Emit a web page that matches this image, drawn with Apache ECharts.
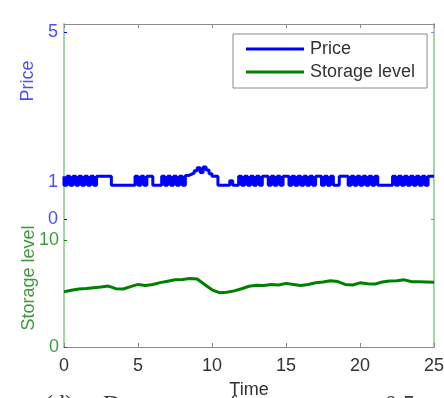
<!DOCTYPE html>
<html>
<head>
<meta charset="utf-8">
<script src="https://cdn.jsdelivr.net/npm/echarts@6/dist/echarts.min.js"></script>
<style>
  html, body { margin: 0; padding: 0; background: #fff; }
  #chart { width: 444px; height: 398px; }
</style>
</head>
<body>
<div id="chart"></div>
<script>
// Price path, sampled every 0.2 time units (step line)
const priceStep = 0.2;
const priceValues = [
  1.15, 0.91, 1.15, 0.91, 1.15, 0.91, 1.15, 0.91, 1.15, 0.91, 1.15, 0.91, 1.15, 1.15, 1.15, 1.15, 1.15, 0.91,
  0.91, 0.91, 0.91, 0.91, 0.91, 0.91, 0.91,
  1.15, 0.91, 1.15, 0.91, 1.15, 1.15,
  0.91, 0.91, 0.91,
  1.15, 0.91, 1.15, 0.91, 1.15, 0.91,
  1.15, 0.91, 1.17, 1.20, 1.24,
  1.30, 1.38, 1.25, 1.40, 1.32, 1.22,
  1.15, 1.15,
  0.91, 0.91, 0.91, 0.91, 1.03, 0.91, 0.91,
  1.15, 0.91, 1.15, 0.91, 1.15, 0.91, 1.15, 0.91, 1.15,
  1.15, 0.91, 1.15, 0.91, 1.15, 0.91, 1.15, 1.15, 0.91, 1.15, 0.91, 1.15, 0.91, 1.15, 0.91, 1.15, 0.91, 1.15, 1.15, 0.91, 1.15, 0.91, 1.15,
  0.91, 0.91, 1.15, 1.15,
  1.15, 0.91, 1.15, 0.91, 1.15, 0.91, 1.15, 0.91, 1.15, 0.91, 1.15, 0.91,
  0.91, 0.91, 0.91, 0.91,
  1.15, 0.91, 1.15, 0.91, 1.15, 0.91, 1.15, 0.91, 1.15, 0.91, 1.15, 0.91, 1.15, 1.15
];

// Storage level, sampled every 0.5 time units
const storageStep = 0.5;
const storageValues = [
  5.17, 5.30, 5.42, 5.48, 5.55, 5.62, 5.70, 5.45, 5.42, 5.65,
  5.85, 5.76, 5.85, 6.02, 6.15, 6.28, 6.32, 6.40, 6.35, 5.85,
  5.35, 5.08, 5.12, 5.25, 5.45, 5.68, 5.78, 5.75, 5.85, 5.80,
  5.95, 5.85, 5.75, 5.85, 6.00, 6.08, 6.20, 6.12, 5.85, 5.80,
  6.00, 5.92, 5.88, 6.08, 6.18, 6.20, 6.28, 6.10, 6.10, 6.08,
  6.05
];

// Tick labels
const timeTicks = [0, 5, 10, 15, 20, 25];
const priceTicks = [0, 1, 5];
const storageTicks = [0, 10];

const priceData = priceValues.map((v, i) => [+(i * priceStep).toFixed(2), v]);
const storageData = storageValues.map((v, i) => [i * storageStep, v]);

const BLUE = '#0000ff';
const GREEN = '#008000';
const FRAME_GREEN = '#a6d6a6';
const GRAY = '#8a8a8a';
const FONT = '"Liberation Sans", Arial, sans-serif';
const SERIF = '"Liberation Serif", serif';

const chart = echarts.init(document.getElementById('chart'), null, { renderer: 'canvas' });

chart.setOption({
  animation: false,
  backgroundColor: '#ffffff',
  grid: { left: 64, right: 10, top: 24, bottom: 51, containLabel: false, outerBoundsMode: 'none' },
  legend: {
    orient: 'vertical',
    left: 233,
    top: 34,
    padding: [6, 12, 7, 13],
    itemGap: 5,
    itemWidth: 58,
    itemHeight: 3,
    icon: 'rect',
    backgroundColor: '#ffffff',
    borderColor: GRAY,
    borderWidth: 1,
    borderRadius: 0,
    textStyle: { fontFamily: FONT, fontSize: 18, color: '#333', lineHeight: 18, padding: [0, 0, 0, 1] },
    data: ['Price', 'Storage level']
  },
  xAxis: [
    {
      type: 'value', position: 'bottom', min: 0, max: 25, interval: 5,
      name: 'Time', nameLocation: 'middle', nameGap: 34,
      nameTextStyle: { fontFamily: FONT, fontSize: 18, color: '#333' },
      axisLine: { show: true, onZero: false, lineStyle: { color: GRAY, width: 1 } },
      axisTick: { show: true, inside: true, length: 4, customValues: timeTicks, lineStyle: { color: GRAY } },
      axisLabel: { fontFamily: FONT, fontSize: 18, color: '#333', margin: 10, customValues: timeTicks },
      splitLine: { show: false }
    },
    {
      type: 'value', position: 'top', min: 0, max: 25, interval: 5,
      axisLine: { show: true, onZero: false, lineStyle: { color: GRAY, width: 1 } },
      axisTick: { show: true, inside: true, length: 4, customValues: timeTicks, lineStyle: { color: GRAY } },
      axisLabel: { show: false },
      splitLine: { show: false }
    }
  ],
  yAxis: [
    {
      // price scale occupies the upper part of the frame
      type: 'value', position: 'left', min: -3.4, max: 5.21,
      axisLine: { show: false, onZero: false },
      axisTick: { show: true, inside: true, length: 3, customValues: priceTicks, lineStyle: { color: BLUE } },
      axisLabel: { fontFamily: FONT, fontSize: 18, color: '#4d4dff', margin: 6, customValues: priceTicks },
      splitLine: { show: false }
    },
    {
      // storage scale occupies the lower part of the frame
      type: 'value', position: 'left', min: 0, max: 30.2,
      axisLine: { show: true, onZero: false, lineStyle: { color: FRAME_GREEN, width: 2 } },
      axisTick: { show: true, inside: true, length: 3, customValues: storageTicks, lineStyle: { color: GREEN } },
      axisLabel: { fontFamily: FONT, fontSize: 18, color: '#3f9a3f', margin: 5, customValues: storageTicks },
      splitLine: { show: false }
    },
    {
      // right frame edge with the price ticks mirrored
      type: 'value', position: 'right', min: -3.4, max: 5.21,
      axisLine: { show: true, onZero: false, lineStyle: { color: FRAME_GREEN, width: 2 } },
      axisTick: { show: true, inside: true, length: 3, customValues: [0, 5], lineStyle: { color: '#8080ff' } },
      axisLabel: { show: false },
      splitLine: { show: false }
    }
  ],
  series: [
    {
      name: 'Price', type: 'line', xAxisIndex: 0, yAxisIndex: 0,
      step: 'start', symbol: 'none', data: priceData,
      lineStyle: { color: BLUE, width: 3 }, itemStyle: { color: BLUE }
    },
    {
      name: 'Storage level', type: 'line', xAxisIndex: 0, yAxisIndex: 1,
      symbol: 'none', data: storageData,
      lineStyle: { color: GREEN, width: 3 }, itemStyle: { color: GREEN }
    }
  ],
  graphic: [
    {
      type: 'text', x: 28, y: 81, rotation: Math.PI / 2,
      style: { text: 'Price', fontFamily: FONT, fontSize: 18, fill: '#4d4dff', align: 'center', verticalAlign: 'middle' }
    },
    {
      type: 'text', x: 29, y: 278, rotation: Math.PI / 2,
      style: { text: 'Storage level', fontFamily: FONT, fontSize: 18, fill: '#3f9a3f', align: 'center', verticalAlign: 'middle' }
    },
    // figure caption running off the bottom edge
    { type: 'text', x: 45, y: 393, style: { text: '(d)', fontFamily: SERIF, fontSize: 24, fill: '#333' } },
    { type: 'text', x: 103, y: 393, style: { text: 'Degree', fontFamily: SERIF, fontSize: 24, fill: '#333' } },
    { type: 'text', x: 217, y: 393, style: { text: 'of', fontFamily: SERIF, fontSize: 24, fill: '#333' } },
    { type: 'text', x: 385, y: 393, style: { text: '0.5', fontFamily: SERIF, fontSize: 24, fill: '#333' } }
  ]
});
</script>
</body>
</html>
